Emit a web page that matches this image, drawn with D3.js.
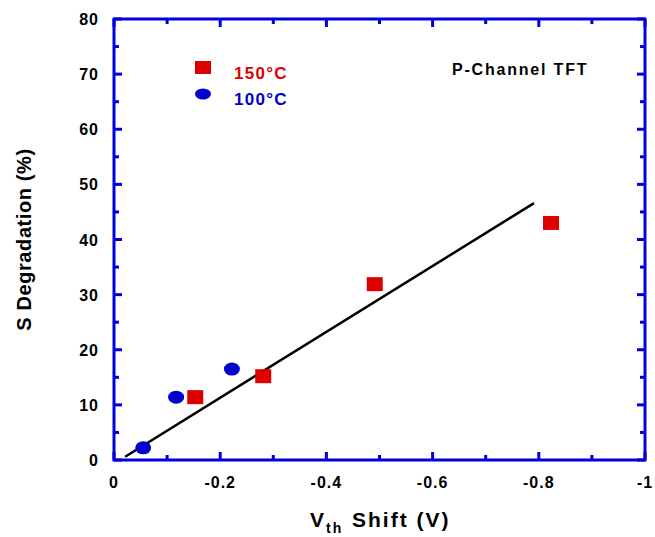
<html>
  <head>
    <meta charset="utf-8">
    <title>S degradation vs Vth shift</title>
    <script src="https://d3js.org/d3.v7.min.js"></script>
    <style>
      body { margin: 0; background: #fff; }
      text { font-family: "Liberation Sans", Arial, sans-serif; font-weight: bold; }
    </style>
  </head>
  <body>
    <div id='wrapper'>
      <script>
        // data (x is Vth shift in V, y is S degradation in %)
        var sq150 = [
          { x: -0.153, y: 11.4 },
          { x: -0.281, y: 15.2 },
          { x: -0.491, y: 31.9 },
          { x: -0.823, y: 43.0 }
        ];
        var ci100 = [
          { x: -0.055, y: 2.2 },
          { x: -0.117, y: 11.4 },
          { x: -0.222, y: 16.5 }
        ];
        var fitLine = [
          { x: -0.021, y: 0.6 },
          { x: -0.791, y: 46.6 }
        ];
        var xTicks = [0, -0.2, -0.4, -0.6, -0.8, -1];
        var xTickLabels = ["0", "-0.2", "-0.4", "-0.6", "-0.8", "-1"];
        var xMinor = [-0.1, -0.3, -0.5, -0.7, -0.9];
        var yTicks = [0, 10, 20, 30, 40, 50, 60, 70, 80];
        var yMinor = [5, 15, 25, 35, 45, 55, 65, 75];
        var legendItems = [
          { label: "150\u00B0C", color: "#dd0000", shape: "square" },
          { label: "100\u00B0C", color: "#0000cc", shape: "circle" }
        ];

        var axisBlue = "#0000dd";
        var plotL = 114, plotR = 645, plotT = 19, plotB = 460;

        var svg = d3.select("#wrapper").append("svg")
          .attr("width", 655)
          .attr("height", 537);

        var xScale = d3.scaleLinear().domain([0, -1]).range([plotL, plotR]);
        var yScale = d3.scaleLinear().domain([0, 80]).range([plotB, plotT]);

        // frame
        svg.append("rect")
          .attr("x", plotL).attr("y", plotT)
          .attr("width", plotR - plotL).attr("height", plotB - plotT)
          .attr("fill", "none")
          .attr("stroke", axisBlue)
          .attr("stroke-width", 3);

        // ticks, all pointing inwards, on all four sides
        function xTickMarks(vals, len) {
          svg.append("g").selectAll("line").data(vals).enter().append("line")
            .attr("x1", d => xScale(d)).attr("x2", d => xScale(d))
            .attr("y1", plotB).attr("y2", plotB - len)
            .attr("stroke", axisBlue).attr("stroke-width", 3);
          svg.append("g").selectAll("line").data(vals).enter().append("line")
            .attr("x1", d => xScale(d)).attr("x2", d => xScale(d))
            .attr("y1", plotT).attr("y2", plotT + len)
            .attr("stroke", axisBlue).attr("stroke-width", 3);
        }
        function yTickMarks(vals, len) {
          svg.append("g").selectAll("line").data(vals).enter().append("line")
            .attr("x1", plotL).attr("x2", plotL + len)
            .attr("y1", d => yScale(d)).attr("y2", d => yScale(d))
            .attr("stroke", axisBlue).attr("stroke-width", 3);
          svg.append("g").selectAll("line").data(vals).enter().append("line")
            .attr("x1", plotR).attr("x2", plotR - len)
            .attr("y1", d => yScale(d)).attr("y2", d => yScale(d))
            .attr("stroke", axisBlue).attr("stroke-width", 3);
        }
        xTickMarks(xTicks, 8);
        xTickMarks(xMinor, 5);
        yTickMarks(yTicks, 8);
        yTickMarks(yMinor, 5);

        // tick labels
        svg.append("g").selectAll("text").data(xTicks).enter().append("text")
          .attr("x", d => xScale(d))
          .attr("y", 488)
          .attr("text-anchor", "middle")
          .style("font-size", "16px")
          .style("letter-spacing", "1px")
          .text((d, i) => xTickLabels[i]);

        svg.append("g").selectAll("text").data(yTicks).enter().append("text")
          .attr("x", 99)
          .attr("y", d => yScale(d) + 6)
          .attr("text-anchor", "end")
          .style("font-size", "16px")
          .style("letter-spacing", "1px")
          .text(d => d);

        // axis titles
        svg.append("text")
          .attr("transform", "rotate(-90)")
          .attr("x", -(plotT + plotB) / 2)
          .attr("y", 31)
          .attr("text-anchor", "middle")
          .style("font-size", "20px")
          .style("letter-spacing", "0.6px")
          .text("S Degradation (%)");

        var xt = svg.append("text")
          .attr("x", 310)
          .attr("y", 527)
          .style("font-size", "21px")
          .style("letter-spacing", "2px");
        xt.append("tspan").text("V");
        xt.append("tspan").attr("dy", 6).style("font-size", "14px").text("th");
        xt.append("tspan").attr("x", 352).attr("dy", -6).text("Shift (V)");

        // fit line
        svg.append("path")
          .datum(fitLine)
          .attr("d", d3.line().x(d => xScale(d.x)).y(d => yScale(d.y)))
          .attr("stroke", "#000")
          .attr("stroke-width", 2.5)
          .attr("fill", "none");

        // data points
        svg.append("g").selectAll("ellipse").data(ci100).enter().append("ellipse")
          .attr("cx", d => xScale(d.x))
          .attr("cy", d => yScale(d.y))
          .attr("rx", 8).attr("ry", 6.5)
          .attr("fill", "#0000cc");

        svg.append("g").selectAll("rect").data(sq150).enter().append("rect")
          .attr("x", d => xScale(d.x) - 8)
          .attr("y", d => yScale(d.y) - 7)
          .attr("width", 16).attr("height", 14)
          .attr("fill", "#dd0000");

        // legend
        var leg = svg.append("g").selectAll("g").data(legendItems).enter().append("g")
          .attr("transform", (d, i) => "translate(203," + (67.5 + i * 26.5) + ")");
        leg.filter(d => d.shape === "square").append("rect")
          .attr("x", -8).attr("y", -6.5).attr("width", 16).attr("height", 13)
          .attr("fill", d => d.color);
        leg.filter(d => d.shape === "circle").append("ellipse")
          .attr("rx", 8).attr("ry", 5.5)
          .attr("fill", d => d.color);
        leg.append("text")
          .attr("x", 31).attr("y", 11)
          .attr("fill", d => d.color)
          .style("font-size", "17px")
          .style("letter-spacing", "1.3px")
          .text(d => d.label);

        svg.append("text")
          .attr("x", 452).attr("y", 75)
          .style("font-size", "16px")
          .style("letter-spacing", "1.8px")
          .text("P-Channel TFT");
      </script>
    </div>
  </body>
</html>
